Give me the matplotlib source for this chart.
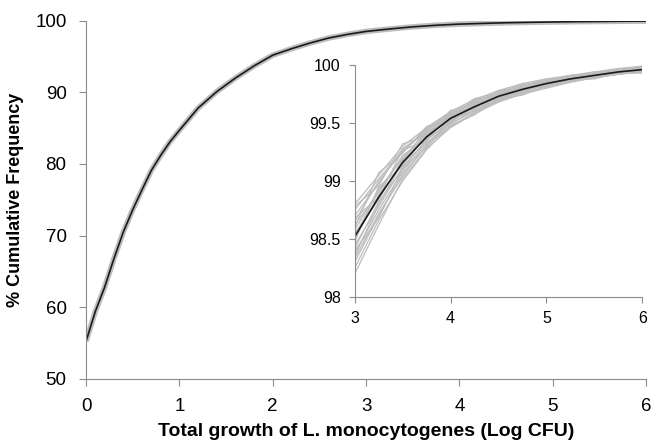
import numpy as np
import matplotlib
matplotlib.use("Agg")
import matplotlib.pyplot as plt

plt.rcParams['font.family'] = ['Liberation Sans', 'DejaVu Sans']

# mean cumulative frequency curve (main panel)
growth = [0, 0.1, 0.2, 0.3, 0.4, 0.5, 0.6, 0.7, 0.8, 0.9, 1.0, 1.2, 1.4, 1.6, 1.8,
          2.0, 2.2, 2.4, 2.6, 2.8, 3.0, 3.25, 3.5, 3.75, 4.0, 4.25, 4.5, 4.75,
          5.0, 5.25, 5.5, 5.75, 6.0]
mean_freq = [55.2, 59.4, 62.8, 66.8, 70.5, 73.6, 76.4, 79.1, 81.2, 83.1, 84.7,
             87.8, 90.1, 92.0, 93.7, 95.2, 96.1, 96.9, 97.6, 98.1, 98.52, 98.86,
             99.16, 99.38, 99.54, 99.64, 99.73, 99.79, 99.84, 99.88, 99.91,
             99.94, 99.96]

# simulated iterations (inset, 3 to 6 log CFU)
inset_x = [3.0, 3.25, 3.5, 3.75, 4.0, 4.25, 4.5, 4.75, 5.0, 5.25, 5.5, 5.75, 6.0]
sims = [
    [98.80, 99.05, 99.30, 99.46, 99.60, 99.70, 99.78, 99.84, 99.88, 99.91, 99.94, 99.97, 99.99],
    [98.20, 98.62, 99.02, 99.28, 99.46, 99.58, 99.68, 99.75, 99.80, 99.85, 99.89, 99.92, 99.94],
    [98.30, 98.70, 99.06, 99.30, 99.50, 99.60, 99.70, 99.77, 99.83, 99.87, 99.90, 99.93, 99.95],
    [98.65, 99.00, 99.25, 99.44, 99.58, 99.68, 99.75, 99.82, 99.86, 99.90, 99.93, 99.96, 99.98],
    [98.45, 98.78, 99.12, 99.35, 99.52, 99.62, 99.72, 99.77, 99.84, 99.87, 99.91, 99.93, 99.96],
    [98.58, 98.92, 99.20, 99.40, 99.55, 99.66, 99.74, 99.81, 99.85, 99.89, 99.92, 99.95, 99.97],
    [98.38, 98.75, 99.08, 99.33, 99.49, 99.61, 99.70, 99.78, 99.82, 99.86, 99.90, 99.92, 99.95],
    [98.70, 98.98, 99.28, 99.42, 99.57, 99.69, 99.76, 99.81, 99.87, 99.90, 99.92, 99.95, 99.98],
    [98.50, 98.88, 99.14, 99.39, 99.53, 99.65, 99.71, 99.80, 99.84, 99.88, 99.90, 99.94, 99.96],
    [98.62, 98.90, 99.22, 99.37, 99.56, 99.63, 99.75, 99.79, 99.86, 99.89, 99.93, 99.94, 99.97],
    [98.42, 98.82, 99.10, 99.36, 99.51, 99.64, 99.72, 99.80, 99.83, 99.88, 99.91, 99.93, 99.95],
    [98.55, 98.84, 99.18, 99.41, 99.55, 99.66, 99.73, 99.78, 99.85, 99.89, 99.91, 99.95, 99.96],
    [98.75, 99.02, 99.26, 99.45, 99.59, 99.67, 99.77, 99.83, 99.86, 99.91, 99.93, 99.96, 99.98],
    [98.33, 98.72, 99.04, 99.31, 99.47, 99.59, 99.69, 99.76, 99.81, 99.86, 99.89, 99.92, 99.94],
    [98.60, 99.07, 99.24, 99.47, 99.54, 99.70, 99.74, 99.83, 99.85, 99.90, 99.94, 99.95, 99.99],
    [98.25, 98.66, 99.00, 99.27, 99.48, 99.57, 99.71, 99.74, 99.82, 99.87, 99.88, 99.93, 99.93],
    [98.48, 98.95, 99.13, 99.43, 99.50, 99.67, 99.70, 99.81, 99.83, 99.90, 99.90, 99.95, 99.97],
    [98.68, 98.86, 99.27, 99.34, 99.61, 99.62, 99.78, 99.79, 99.87, 99.87, 99.93, 99.94, 99.98],
    [98.35, 98.80, 99.16, 99.32, 99.52, 99.65, 99.68, 99.80, 99.81, 99.89, 99.89, 99.94, 99.95],
    [98.78, 98.96, 99.32, 99.39, 99.58, 99.71, 99.76, 99.82, 99.88, 99.88, 99.92, 99.96, 99.97],
    [98.40, 98.68, 99.11, 99.29, 99.53, 99.60, 99.73, 99.76, 99.84, 99.86, 99.91, 99.92, 99.96],
    [98.52, 98.93, 99.19, 99.44, 99.56, 99.68, 99.72, 99.82, 99.85, 99.91, 99.92, 99.95, 99.97],
]
inset_mean = mean_freq[20:]

GREY = '#bdbdbd'
AXC = '#8c8c8c'

fig = plt.figure(figsize=(6.54, 4.43), dpi=100)
ax = fig.add_axes([0.1315, 0.1452, 0.8565, 0.8078])
ax.plot(growth, mean_freq, color=GREY, lw=4, solid_capstyle='butt')
ax.plot(growth, mean_freq, color='#1a1a1a', lw=1.2)
ax.set_xlim(0, 6)
ax.set_ylim(50, 100)
ax.set_xticks(range(0, 7))
ax.set_yticks(range(50, 101, 10))
for s in ['top', 'right']:
    ax.spines[s].set_visible(False)
for s in ['left', 'bottom']:
    ax.spines[s].set_color(AXC)
    ax.spines[s].set_linewidth(0.8)
ax.tick_params(direction='out', length=5, width=0.8, color=AXC, labelsize=13.5, pad=9)
ax.set_xlabel('Total growth of L. monocytogenes (Log CFU)', fontsize=14,
              fontweight='bold', labelpad=6)
ax.set_ylabel('% Cumulative Frequency', fontsize=13, fontweight='bold', labelpad=8)

ins = fig.add_axes([0.5424, 0.3296, 0.4396, 0.5237])
for s in sims:
    ins.plot(inset_x, s, color=GREY, lw=0.9)
ins.plot(inset_x, inset_mean, color='#1a1a1a', lw=1.2)
ins.set_xlim(3, 6)
ins.set_ylim(98, 100)
ins.set_xticks([3, 4, 5, 6])
ins.set_yticks([98, 98.5, 99, 99.5, 100])
ins.set_yticklabels(['98', '98.5', '99', '99.5', '100'])
for s in ['top', 'right']:
    ins.spines[s].set_visible(False)
for s in ['left', 'bottom']:
    ins.spines[s].set_color(AXC)
    ins.spines[s].set_linewidth(0.8)
ins.tick_params(direction='out', length=4, width=0.8, color=AXC, labelsize=11.5, pad=6)
ins.patch.set_alpha(0)

fig.savefig('out.png', dpi=100)
